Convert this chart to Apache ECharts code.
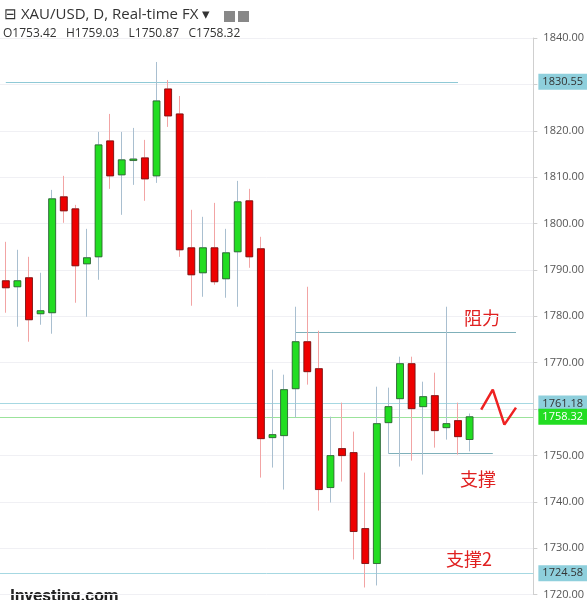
<!DOCTYPE html>
<html><head><meta charset="utf-8">
<script src="https://cdn.jsdelivr.net/npm/echarts@6/dist/echarts.min.js"></script>
<style>html,body{margin:0;padding:0;background:#fff}#c{width:587px;height:600px}</style>
</head><body><div id="c"></div>
<script>
// [open, close, low, high]
const candles = [
[1787.65,1786.14,1780.76,1796.05],
[1786.36,1787.65,1777.74,1794.33],
[1788.30,1779.25,1774.51,1792.82],
[1780.54,1781.19,1778.17,1789.37],
[1780.76,1805.32,1776.23,1807.25],
[1805.75,1802.73,1800.15,1810.27],
[1803.16,1790.88,1782.91,1804.02],
[1791.31,1792.61,1779.89,1798.85],
[1792.82,1816.95,1787.87,1819.75],
[1817.81,1810.27,1807.47,1823.63],
[1810.49,1813.72,1801.87,1819.75],
[1813.72,1813.90,1808.33,1820.61],
[1814.15,1809.62,1804.89,1818.03],
[1810.27,1826.43,1808.76,1834.83],
[1829.01,1823.20,1820.83,1830.95],
[1823.63,1794.33,1792.82,1827.50],
[1794.76,1788.94,1782.27,1802.95],
[1789.37,1794.76,1784.20,1801.44],
[1794.76,1787.44,1786.79,1804.45],
[1788.08,1793.68,1783.99,1798.85],
[1793.90,1804.67,1782.05,1809.19],
[1804.89,1792.82,1790.45,1807.47],
[1794.55,1753.61,1745.21,1797.13],
[1753.83,1754.47,1747.37,1768.48],
[1754.26,1764.17,1742.63,1767.40],
[1764.38,1774.51,1758.14,1782.05],
[1774.51,1768.05,1765.25,1786.36],
[1768.69,1742.63,1738.10,1776.88],
[1743.06,1749.95,1739.83,1758.35],
[1751.46,1749.95,1744.35,1761.37],
[1750.60,1733.58,1727.55,1755.12],
[1734.22,1726.68,1721.51,1746.29],
[1726.68,1756.84,1721.95,1764.81],
[1757.06,1760.51,1750.38,1764.60],
[1762.23,1769.77,1747.58,1771.28],
[1769.77,1760.08,1748.87,1771.28],
[1760.51,1762.66,1745.86,1765.89],
[1762.88,1755.34,1751.67,1767.83],
[1755.98,1756.84,1753.40,1782.05],
[1757.49,1754.04,1750.17,1761.37],
[1753.42,1758.32,1750.87,1759.03]
];
const blankDays = 5;
const categories = Array.from({length: candles.length + blankDays}, (_, i) => 'D' + (i + 1));
const yTicks = {min: 1720, max: 1840, interval: 10};
const levels = {high: 1830.55, upper: 1761.18, last: 1758.32, low: 1724.58};
const resistance = {from: 25, to: 44, value: 1776.45};
const support = {from: 33, to: 42, value: 1750.38};
const zigzag = [[41, 1759.86], [42, 1764.17], [43, 1756.63], [44, 1760.3]];
const highLineEnd = 39;

const UP = '#22dd22', DOWN = '#ee0000';
const chart = echarts.init(document.getElementById('c'));
const boxLabel = (bg, fg) => ({show: true, position: 'end', formatter: p => p.value.toFixed(2),
  backgroundColor: bg, color: fg, fontSize: 11, padding: [3, 4, 2, 4], distance: 5, fontFamily: 'Open Sans'});
const seg = (a, b, color) => [{coord: a, lineStyle: {color: color, width: 1.2, type: 'solid'}, label: {show: false}}, {coord: b}];
chart.setOption({
  animation: false,
  grid: {left: 0, right: 50, top: 38, bottom: 5},
  xAxis: {type: 'category', data: categories, axisLine: {show: false}, axisTick: {show: false},
    axisLabel: {show: false}, splitLine: {show: false}},
  yAxis: {type: 'value', position: 'right', min: yTicks.min, max: yTicks.max, interval: yTicks.interval,
    axisLine: {show: true, lineStyle: {color: '#cfcfcf'}}, axisTick: {show: true, length: 4, lineStyle: {color: '#cfcfcf'}},
    axisLabel: {color: '#555', fontSize: 11, margin: 10, formatter: v => v.toFixed(2), fontFamily: 'Open Sans'},
    splitLine: {lineStyle: {color: '#f0f0f4'}}},
  series: [
    {type: 'candlestick', data: candles, barWidth: '60%', z: 2,
     itemStyle: {color: UP, color0: DOWN, borderColor: '#a9bfd0', borderColor0: '#f2a4a4', borderWidth: 1},
     markLine: {symbol: 'none', silent: true, z: 1, data: [
       seg([0, levels.high], [highLineEnd, levels.high], '#8fc9d6'),
       seg([resistance.from, resistance.value], [resistance.to, resistance.value], '#7fb0ba'),
       seg([support.from, support.value], [support.to, support.value], '#7fb0ba'),
       {yAxis: levels.high, lineStyle: {color: 'rgba(0,0,0,0)', width: 0.1, type: 'solid'}, label: boxLabel('#8ecfdc', '#333')},
       {yAxis: levels.upper, lineStyle: {color: '#a6d8e2', width: 1, type: 'solid'}, label: boxLabel('#8ecfdc', '#333')},
       {yAxis: levels.last, lineStyle: {color: '#9be39b', width: 1, type: 'solid'}, label: boxLabel('#22dd22', '#fff')},
       {yAxis: levels.low, lineStyle: {color: '#a6d8e2', width: 1, type: 'solid'}, label: boxLabel('#8ecfdc', '#333')}
     ]}},
    {type: 'custom', data: candles.map((c, i) => [i, c[0], c[1]]), z: 3,
     renderItem: (params, api) => {
       const i = api.value(0), o = api.value(1), c = api.value(2);
       const w = api.size([1, 0])[0] * 0.6;
       const p1 = api.coord([i, Math.max(o, c)]), p2 = api.coord([i, Math.min(o, c)]);
       const h = Math.max(p2[1] - p1[1], 1.5);
       const up = c >= o;
       return {type: 'rect', shape: {x: p1[0] - w / 2, y: p1[1], width: w, height: h},
         style: {fill: up ? UP : DOWN, stroke: up ? '#2b5a2b' : '#6a1010', lineWidth: 0.8}};
     }},
    {type: 'line', data: zigzag, symbol: 'none', z: 4, lineStyle: {color: '#ee2222', width: 2.5}}
  ],
  graphic: [
    {type: 'text', left: 4, top: 7, style: {text: '⊟ XAU/USD, D, Real-time FX ▾', fontSize: 15, fill: '#333', fontFamily: 'Open Sans'}},
    {type: 'rect', left: 224, top: 11, shape: {width: 11, height: 11}, style: {fill: '#888'}},
    {type: 'rect', left: 238, top: 11, shape: {width: 11, height: 11}, style: {fill: '#888'}},
    {type: 'text', left: 3, top: 28, style: {text: 'O1753.42   H1759.03   L1750.87   C1758.32', fontSize: 12, fill: '#333', fontFamily: 'Open Sans'}},
    {type: 'text', left: 464, top: 309, style: {text: '阻力', fontSize: 18, fill: '#e02020', fontFamily: 'Noto Sans CJK SC'}},
    {type: 'text', left: 460, top: 470, style: {text: '支撑', fontSize: 18, fill: '#e02020', fontFamily: 'Noto Sans CJK SC'}},
    {type: 'text', left: 446, top: 550, style: {text: '支撑2', fontSize: 18, fill: '#e02020', fontFamily: 'Noto Sans CJK SC'}},
    {type: 'text', left: 10, top: 588, style: {text: 'Investing.com', fontSize: 17, fontWeight: 'bold', fill: '#222', fontFamily: 'Roboto'}}
  ]
});
</script></body></html>
